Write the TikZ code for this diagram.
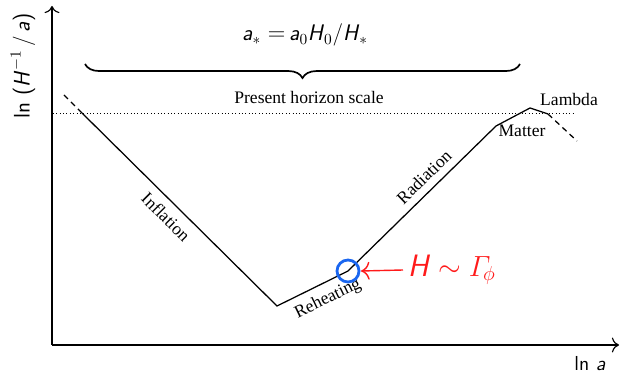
\documentclass[tikz,border=0pt]{standalone}
\usepackage{amsmath}
\usepackage{fontspec}
\setmainfont{Liberation Serif}
\usetikzlibrary{arrows.meta, positioning, decorations.pathreplacing}
\definecolor{HRed}{HTML}{FF1A1A}
\definecolor{HBlue}{HTML}{1A66F0}

\tikzset{
  axis/.style={line width=0.8pt, -{To[scale=1.5]}},
  era/.style={line width=0.9pt},
  fade/.style={line width=0.9pt, dashed, dash pattern=on 4pt off 3pt},
  phase/.style={font=\fontsize{12.5}{14}\selectfont}
}

\begin{document}
\begin{tikzpicture}[x=0.025cm, y=-0.025cm]
  \useasboundingbox (0,0) rectangle (620,373);

  \coordinate (origin) at (52,345);
  \coordinate (ytop)   at (52,6);
  \coordinate (xend)   at (619,345);
  \draw[axis] (origin) -- (ytop);
  \draw[axis] (origin) -- (xend);
  \node[rotate=90] (ylab) at (23,66)
    {\fontsize{16}{19}\selectfont\sffamily ln (\textsl{H}$^{-1}$\,/\,\textsl{a})};
  \node (xlab) at (590,364) {\Large\sffamily ln \textsl{a}};

  \coordinate (hleft)  at (53,113);
  \coordinate (hright) at (575,113);
  \draw[dotted] (hleft) -- (hright);
  \node[phase] (horizon) at (309,97) {Present horizon scale};

  \coordinate (bl) at (85,64);
  \coordinate (br) at (520,64);
  \draw[line width=1.2pt, decorate,
        decoration={brace, amplitude=10pt}] (br) -- (bl);
  \node (astar) at (305,35)
    {\fontsize{16}{19}\selectfont\sffamily\textsl{a}$_*=$\,\textsl{a}$_0$\textsl{H}$_0$/\textsl{H}$_*$};

  \coordinate (pre)   at (64,95);
  \coordinate (cross) at (82,113);
  \coordinate (rhbeg) at (277,306);
  \coordinate (rhend) at (348,271);
  \coordinate (mbeg)  at (496,126);
  \coordinate (lbeg)  at (530,108);
  \coordinate (lend)  at (548,114);
  \coordinate (post)  at (577,141);
  \draw[fade] (pre) -- (cross);
  \draw[era] (cross) -- (rhbeg) -- (rhend) -- (mbeg) -- (lbeg) -- (lend);
  \draw[fade] (lend) -- (post);

  \node[phase, rotate=-45] (inflation) at (166,217) {Inflation};
  \node[phase, rotate=26]  (reheating) at (328,299) {Reheating};
  \node[phase, rotate=44]  (radiation) at (424,177) {Radiation};
  \node[phase] (matter) at (522,131) {Matter};
  \node[phase] (lambda) at (569,99)  {Lambda};

  \draw[HBlue, line width=2pt] (rhend) circle [radius=11];
  \node[HRed, anchor=west] (gamma) at (403,270)
    {\fontsize{22}{26}\selectfont\textsf{\textsl{H}} $\sim\varGamma_{\!\phi}$};
  \coordinate (tip) at (361,271);
  \draw[HRed, line width=1pt, -{To[scale=1.6]}] (gamma.west) -- (tip);
\end{tikzpicture}
\end{document}
